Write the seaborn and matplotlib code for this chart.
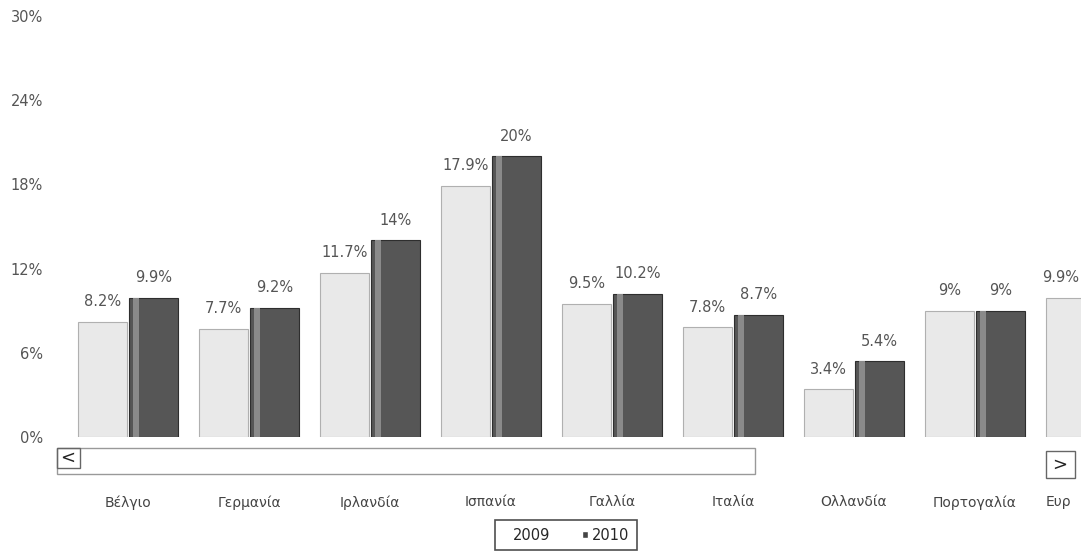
import matplotlib.pyplot as plt
import pandas as pd
import seaborn as sns
from matplotlib.patches import Rectangle, Patch

countries = ["Βέλγιο", "Γερμανία", "Ιρλανδία", "Ισπανία", "Γαλλία",
             "Ιταλία", "Ολλανδία", "Πορτογαλία", "Ευρωζώνη"]
rate_2009 = [8.2, 7.7, 11.7, 17.9, 9.5, 7.8, 3.4, 9.0, 9.9]
rate_2010 = [9.9, 9.2, 14.0, 20.0, 10.2, 8.7, 5.4, 9.0, 10.0]
labels_2009 = ["8.2%", "7.7%", "11.7%", "17.9%", "9.5%", "7.8%", "3.4%", "9%", "9.9%"]
labels_2010 = ["9.9%", "9.2%", "14%", "20%", "10.2%", "8.7%", "5.4%", "9%", "10%"]
tick_labels = ["Βέλγιο", "Γερμανία", "Ιρλανδία", "Ισπανία", "Γαλλία",
               "Ιταλία", "Ολλανδία", "Πορτογαλία", "Ευρ"]
years = ["2009", "2010"]

df = pd.DataFrame({
    "country": countries * 2,
    "year": [years[0]] * len(countries) + [years[1]] * len(countries),
    "rate": rate_2009 + rate_2010,
    "label": labels_2009 + labels_2010,
})

sns.set_style("white")
plt.rcParams["font.family"] = ["DejaVu Sans"]

fig = plt.figure(figsize=(10.81, 5.53), dpi=100)
ax = fig.add_axes([0.0527, 0.21, 0.9473, 0.761])

palette = {"2009": "#e9e9e9", "2010": "#565656"}
sns.barplot(ax=ax, data=df, x="country", y="rate", hue="year", order=countries,
            palette=palette, width=0.84, gap=0.03, legend=False,
            edgecolor="#b0b0b0", linewidth=0.8)

# dark bars: lighter rim to hint at the cylinder look
for bar in ax.containers[1]:
    bar.set_edgecolor("#2e2e2e")
    x, w, h = bar.get_x(), bar.get_width(), bar.get_height()
    ax.add_patch(Rectangle((x + w * 0.08, 0), w * 0.12, h, color="#8a8a8a", lw=0, zorder=3))

anns = []
for cont, labs in zip(ax.containers, [labels_2009, labels_2010]):
    anns.append(ax.bar_label(cont, labels=labs, padding=9, fontsize=10.5, color="#555555"))

# last group is cut off by the view edge: start its label at the bar's left side
last_bar = ax.containers[0][-1]
last_ann = anns[0][-1]
last_ann.xy = (last_bar.get_x() - 0.03, last_bar.get_height())
last_ann.set_ha("left")

ax.set_xlim(-0.587, 7.876)
ax.set_ylim(0, 30)
ax.set_yticks([0, 6, 12, 18, 24, 30])
ax.set_yticklabels(["0%", "6%", "12%", "18%", "24%", "30%"])
ax.set_xticks(list(range(len(countries) - 1)) + [7.58])
ax.set_xticklabels(tick_labels)
ax.get_xticklabels()[-1].set_ha("left")
ax.set_xlabel("")
ax.set_ylabel("")
ax.tick_params(axis="y", length=0, pad=10, labelsize=10.5, labelcolor="#555555")
ax.tick_params(axis="x", length=0, pad=42, labelsize=10, labelcolor="#444444")
for sp in ax.spines.values():
    sp.set_visible(False)

# scrollbar underneath the plot
W, H = 1081, 553
def fig_rect(x0, y0, x1, y1, **kw):
    fig.patches.append(Rectangle((x0 / W, 1 - y1 / H), (x1 - x0) / W, (y1 - y0) / H,
                                 transform=fig.transFigure, figure=fig, **kw))
fig_rect(57, 448, 755, 474, fill=False, edgecolor="#999999", lw=1)
fig_rect(57, 448, 80, 468, fill=False, edgecolor="#666666", lw=1)
fig_rect(1046, 451, 1075, 478, fill=False, edgecolor="#666666", lw=1)
fig.text(68 / W, 1 - 458 / H, "<", ha="center", va="center", fontsize=13, color="#222222")
fig.text(1060 / W, 1 - 465 / H, ">", ha="center", va="center", fontsize=13, color="#222222")

handles = [Patch(facecolor="white", edgecolor="white"), Patch(facecolor="#444444")]
leg = fig.legend(handles, years, loc="center", bbox_to_anchor=(566 / W, 1 - 535 / H),
                 ncol=2, frameon=True, fancybox=False, edgecolor="#222222",
                 fontsize=10.5, handlelength=0.4, handleheight=0.4, handletextpad=0.3,
                 columnspacing=2.2, borderpad=0.5)
leg.get_frame().set_linewidth(1.2)

plt.savefig("out.png", dpi=100)
plt.close()
